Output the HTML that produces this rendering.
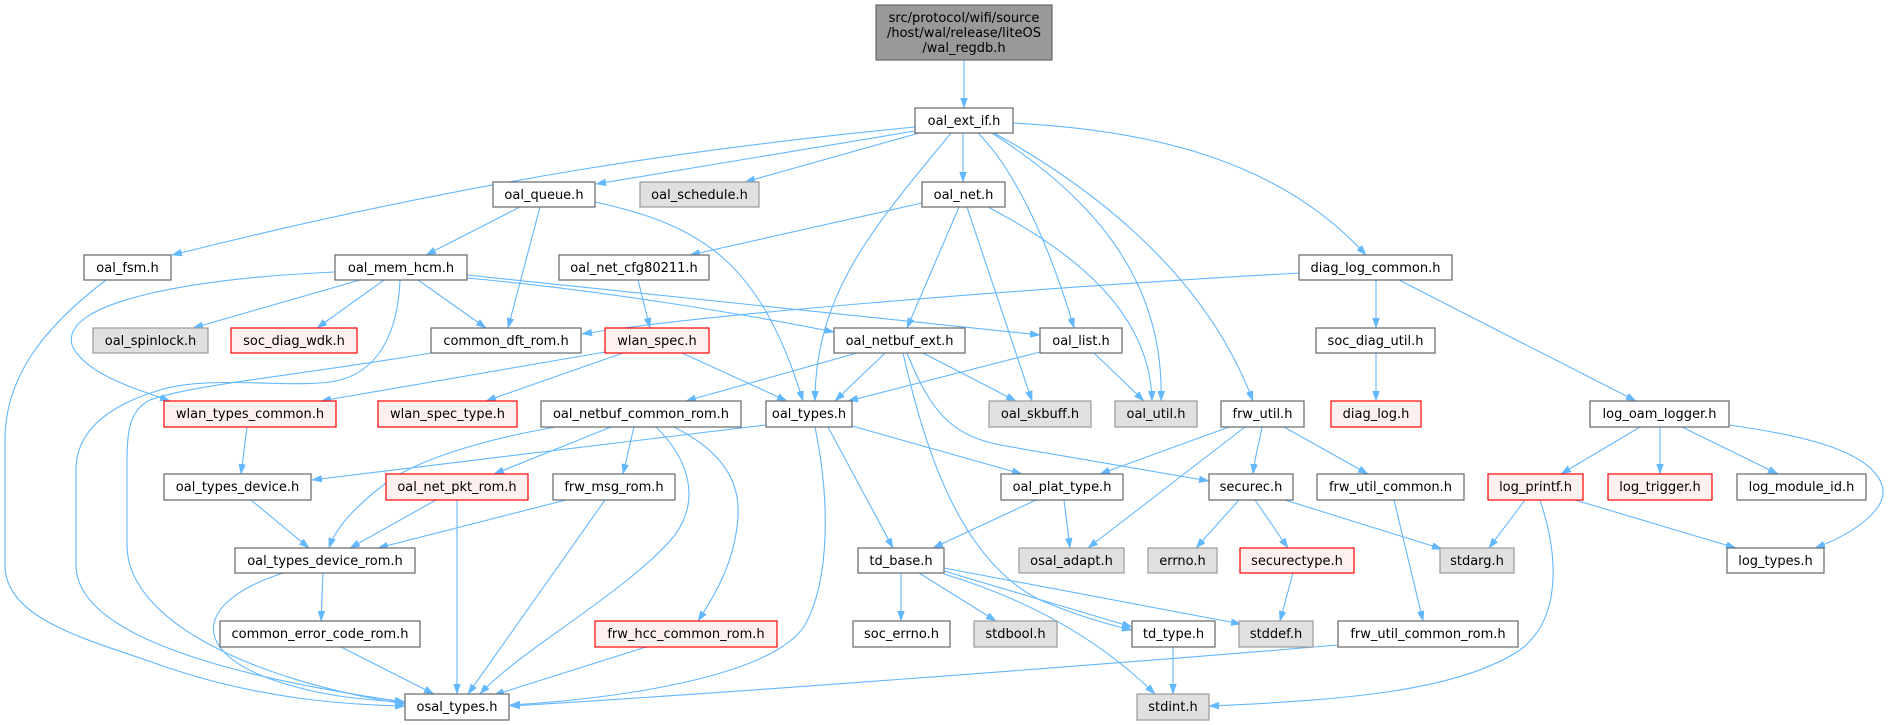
<!DOCTYPE html>
<html><head><meta charset="utf-8"><style>
html,body{margin:0;padding:0;background:#fff;}
svg{display:block;}
text{font-family:"DejaVu Sans","Liberation Sans",sans-serif;font-size:13px;fill:#000;text-anchor:middle;}
.n{fill:#fff;stroke:#666;stroke-width:1.2;}
.g{fill:#e0e0e0;stroke:#999;stroke-width:1.2;}
.r{fill:#fff0f0;stroke:#ff0000;stroke-width:1.2;}
.t{fill:#999;stroke:#666;stroke-width:1.2;}
path.e{fill:none;stroke:#63b8ff;stroke-width:1.1;marker-end:url(#a);}
</style></head><body>
<svg width="1890" height="725" viewBox="0 0 1890 725" xmlns="http://www.w3.org/2000/svg">
<defs><marker id="a" viewBox="0 0 10 7" refX="10" refY="3.5" markerWidth="10" markerHeight="7" markerUnits="userSpaceOnUse" orient="auto"><path d="M0,0 L10,3.5 L0,7 z" fill="#63b8ff" stroke="#63b8ff" stroke-width="0.5"/></marker></defs>

<!-- edges -->
<path class="e" d="M964,60 L964,108"/>
<path class="e" d="M915,131 L596,184"/>
<path class="e" d="M915,127 C700,148 480,178 172,255"/>
<path class="e" d="M919,133 L745,182"/>
<path class="e" d="M963,133 L963,182"/>
<path class="e" d="M951,133 C880,220 815,290 815,401"/>
<path class="e" d="M978,133 C1010,165 1045,230 1074,328"/>
<path class="e" d="M992,133 C1080,190 1165,270 1161,401"/>
<path class="e" d="M994,133 C1070,175 1200,260 1253,401"/>
<path class="e" d="M1013,123 C1150,130 1280,160 1366,255"/>
<path class="e" d="M520,207 L426,255"/>
<path class="e" d="M540,207 L508,328"/>
<path class="e" d="M595,202 C700,225 760,260 803,401"/>
<path class="e" d="M922,203 L690,255"/>
<path class="e" d="M959,207 L907,328"/>
<path class="e" d="M967,207 L1032,401"/>
<path class="e" d="M988,207 C1070,250 1150,310 1152,401"/>
<path class="e" d="M106,280 C40,330 5,380 5,440 L5,565 C5,620 90,640 160,665 C260,700 350,705 405,706"/>
<path class="e" d="M360,280 L193,328"/>
<path class="e" d="M384,280 L317,328"/>
<path class="e" d="M418,280 L486,328"/>
<path class="e" d="M335,272 C200,278 60,300 72,345 C85,375 140,390 170,401"/>
<path class="e" d="M400,280 C398,330 380,375 330,382 C280,388 210,375 160,390 C110,405 76,430 76,470 L76,565 C76,640 250,680 405,702"/>
<path class="e" d="M431,353 C300,375 190,385 150,400 C130,410 127,430 127,460 L127,545 C127,620 250,680 405,704"/>
<path class="e" d="M605,352 L321,401"/>
<path class="e" d="M623,353 L486,401"/>
<path class="e" d="M682,353 L787,401"/>
<path class="e" d="M638,280 L650,328"/>
<path class="e" d="M1299,273 C1000,290 700,315 582,334"/>
<path class="e" d="M1376,280 L1376,328"/>
<path class="e" d="M1399,280 L1636,401"/>
<path class="e" d="M1376,353 L1376,401"/>
<path class="e" d="M467,278 C600,290 750,315 834,332"/>
<path class="e" d="M467,275 L1040,335"/>
<path class="e" d="M857,353 L686,401"/>
<path class="e" d="M885,353 L835,401"/>
<path class="e" d="M923,353 L1016,401"/>
<path class="e" d="M903,353 C925,450 960,560 1040,600 C1080,617 1110,625 1132,630"/>
<path class="e" d="M907,353 C930,410 950,435 1000,445 L1209,481"/>
<path class="e" d="M1040,352 L848,401"/>
<path class="e" d="M1094,353 L1144,401"/>
<path class="e" d="M247,427 L241,474"/>
<path class="e" d="M766,425 C650,440 450,462 312,480"/>
<path class="e" d="M852,426 L1022,474"/>
<path class="e" d="M828,427 L893,548"/>
<path class="e" d="M815,427 C830,500 830,580 805,625 C770,680 600,700 510,705"/>
<path class="e" d="M556,427 C480,440 420,460 390,480 C350,510 335,530 329,548"/>
<path class="e" d="M611,427 L494,474"/>
<path class="e" d="M634,427 L623,474"/>
<path class="e" d="M674,427 C720,450 740,480 738,515 C736,560 715,595 698,621"/>
<path class="e" d="M656,427 C690,460 700,500 675,535 C630,590 520,650 480,694"/>
<path class="e" d="M251,500 L309,548"/>
<path class="e" d="M436,500 L350,548"/>
<path class="e" d="M566,500 L378,548"/>
<path class="e" d="M457,500 L457,694"/>
<path class="e" d="M605,500 L468,694"/>
<path class="e" d="M323,573 L321,621"/>
<path class="e" d="M283,573 C200,600 190,645 260,675 C310,695 360,700 405,702"/>
<path class="e" d="M341,647 L434,694"/>
<path class="e" d="M646,647 L494,695"/>
<path class="e" d="M1036,500 L933,548"/>
<path class="e" d="M1064,500 L1070,548"/>
<path class="e" d="M1229,427 L1100,474"/>
<path class="e" d="M1245,427 L1088,548"/>
<path class="e" d="M1262,427 C1260,440 1255,455 1253,474"/>
<path class="e" d="M1284,427 L1368,474"/>
<path class="e" d="M1239,500 L1196,548"/>
<path class="e" d="M1255,500 L1288,548"/>
<path class="e" d="M1285,500 L1442,549"/>
<path class="e" d="M1394,500 L1423,621"/>
<path class="e" d="M1525,500 L1489,548"/>
<path class="e" d="M1575,500 L1736,548"/>
<path class="e" d="M1540,500 C1560,560 1560,620 1520,650 C1460,690 1350,700 1209,706"/>
<path class="e" d="M1640,427 L1561,474"/>
<path class="e" d="M1660,427 L1660,474"/>
<path class="e" d="M1682,427 L1778,474"/>
<path class="e" d="M1729,425 C1800,435 1870,450 1882,485 C1890,510 1850,535 1815,548"/>
<path class="e" d="M901,573 L901,621"/>
<path class="e" d="M919,573 L996,621"/>
<path class="e" d="M944,571 L1132,627"/>
<path class="e" d="M944,568 L1241,624"/>
<path class="e" d="M944,574 C1030,600 1100,640 1155,694"/>
<path class="e" d="M1293,573 L1280,621"/>
<path class="e" d="M1173,647 L1173,694"/>
<path class="e" d="M1338,645 C1100,665 700,695 510,706"/>

<!-- nodes -->
<rect class="t" x="876" y="5" width="176" height="55"/>
<text x="964" y="22">src/protocol/wifi/source</text>
<text x="964" y="37">/host/wal/release/liteOS</text>
<text x="964" y="52">/wal_regdb.h</text>

<rect class="n" x="915" y="108" width="98" height="25"/><text x="964" y="125">oal_ext_if.h</text>

<rect class="n" x="493" y="182" width="102" height="25"/><text x="544" y="199">oal_queue.h</text>
<rect class="g" x="640" y="182" width="119" height="25"/><text x="699.5" y="199">oal_schedule.h</text>
<rect class="n" x="922" y="182" width="83" height="25"/><text x="963.5" y="199">oal_net.h</text>

<rect class="n" x="84" y="255" width="87" height="25"/><text x="127.5" y="272">oal_fsm.h</text>
<rect class="n" x="335" y="255" width="132" height="25"/><text x="401" y="272">oal_mem_hcm.h</text>
<rect class="n" x="559" y="255" width="150" height="25"/><text x="634" y="272">oal_net_cfg80211.h</text>
<rect class="n" x="1299" y="255" width="153" height="25"/><text x="1375.5" y="272">diag_log_common.h</text>

<rect class="g" x="93" y="328" width="115" height="25"/><text x="150.5" y="345">oal_spinlock.h</text>
<rect class="r" x="231" y="328" width="126" height="25"/><text x="294" y="345">soc_diag_wdk.h</text>
<rect class="n" x="431" y="328" width="150" height="25"/><text x="506" y="345">common_dft_rom.h</text>
<rect class="r" x="605" y="328" width="104" height="25"/><text x="657" y="345">wlan_spec.h</text>
<rect class="n" x="834" y="328" width="131" height="25"/><text x="899.5" y="345">oal_netbuf_ext.h</text>
<rect class="n" x="1040" y="328" width="82" height="25"/><text x="1081" y="345">oal_list.h</text>
<rect class="n" x="1316" y="328" width="119" height="25"/><text x="1375.5" y="345">soc_diag_util.h</text>

<rect class="r" x="164" y="401" width="172" height="26"/><text x="250" y="418">wlan_types_common.h</text>
<rect class="r" x="378" y="401" width="139" height="26"/><text x="447.5" y="418">wlan_spec_type.h</text>
<rect class="n" x="541" y="401" width="200" height="26"/><text x="641" y="418">oal_netbuf_common_rom.h</text>
<rect class="n" x="766" y="401" width="86" height="26"/><text x="809" y="418">oal_types.h</text>
<rect class="g" x="989" y="401" width="102" height="26"/><text x="1040" y="418">oal_skbuff.h</text>
<rect class="g" x="1115" y="401" width="82" height="26"/><text x="1156" y="418">oal_util.h</text>
<rect class="n" x="1221" y="401" width="83" height="26"/><text x="1262.5" y="418">frw_util.h</text>
<rect class="r" x="1331" y="401" width="90" height="26"/><text x="1376" y="418">diag_log.h</text>
<rect class="n" x="1590" y="401" width="139" height="26"/><text x="1659.5" y="418">log_oam_logger.h</text>

<rect class="n" x="164" y="474" width="147" height="26"/><text x="237.5" y="491">oal_types_device.h</text>
<rect class="r" x="386" y="474" width="142" height="26"/><text x="457" y="491">oal_net_pkt_rom.h</text>
<rect class="n" x="553" y="474" width="122" height="26"/><text x="614" y="491">frw_msg_rom.h</text>
<rect class="n" x="1001" y="474" width="122" height="26"/><text x="1062" y="491">oal_plat_type.h</text>
<rect class="n" x="1209" y="474" width="84" height="26"/><text x="1251" y="491">securec.h</text>
<rect class="n" x="1317" y="474" width="147" height="26"/><text x="1390.5" y="491">frw_util_common.h</text>
<rect class="r" x="1488" y="474" width="95" height="26"/><text x="1535.5" y="491">log_printf.h</text>
<rect class="r" x="1608" y="474" width="104" height="26"/><text x="1660" y="491">log_trigger.h</text>
<rect class="n" x="1737" y="474" width="129" height="26"/><text x="1801.5" y="491">log_module_id.h</text>

<rect class="n" x="235" y="548" width="180" height="25"/><text x="325" y="565">oal_types_device_rom.h</text>
<rect class="n" x="858" y="548" width="86" height="25"/><text x="901" y="565">td_base.h</text>
<rect class="g" x="1019" y="548" width="105" height="25"/><text x="1071.5" y="565">osal_adapt.h</text>
<rect class="g" x="1148" y="548" width="69" height="25"/><text x="1182.5" y="565">errno.h</text>
<rect class="r" x="1240" y="548" width="114" height="25"/><text x="1297" y="565">securectype.h</text>
<rect class="g" x="1440" y="548" width="74" height="25"/><text x="1477" y="565">stdarg.h</text>
<rect class="n" x="1727" y="548" width="97" height="25"/><text x="1775.5" y="565">log_types.h</text>

<rect class="n" x="220" y="621" width="200" height="26"/><text x="320" y="638">common_error_code_rom.h</text>
<rect class="r" x="595" y="621" width="182" height="26"/><text x="686" y="638">frw_hcc_common_rom.h</text>
<rect class="n" x="853" y="621" width="97" height="26"/><text x="901.5" y="638">soc_errno.h</text>
<rect class="g" x="974" y="621" width="83" height="26"/><text x="1015.5" y="638">stdbool.h</text>
<rect class="n" x="1132" y="621" width="83" height="26"/><text x="1173.5" y="638">td_type.h</text>
<rect class="g" x="1239" y="621" width="74" height="26"/><text x="1276" y="638">stddef.h</text>
<rect class="n" x="1338" y="621" width="180" height="26"/><text x="1428" y="638">frw_util_common_rom.h</text>

<rect class="n" x="405" y="694" width="104" height="26"/><text x="457" y="711">osal_types.h</text>
<rect class="g" x="1137" y="694" width="72" height="26"/><text x="1173" y="711">stdint.h</text>
</svg>
</body></html>
